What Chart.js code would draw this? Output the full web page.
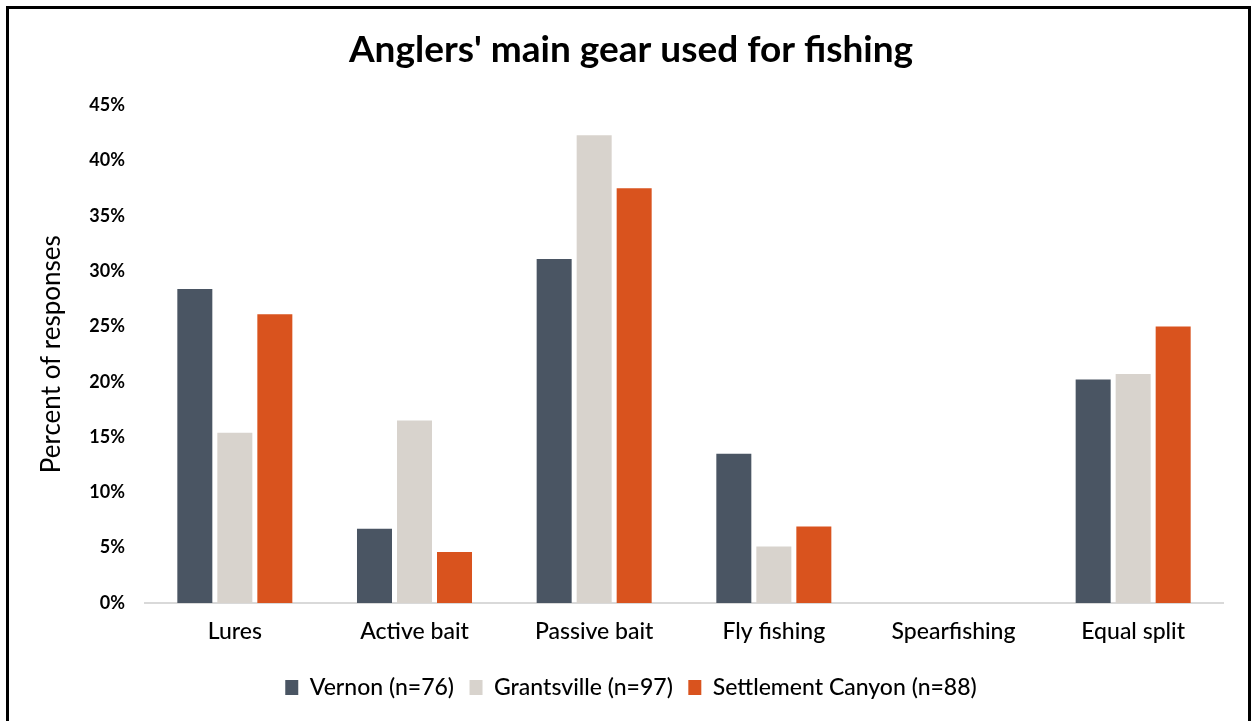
<!DOCTYPE html>
<html>
<head>
<meta charset="utf-8">
<script src="https://cdn.jsdelivr.net/npm/chart.js@4/dist/chart.umd.min.js"></script>
<style>
    html, body { margin: 0; padding: 0; background: #fff; overflow: hidden; }
    #frame {
        position: absolute;
        left: 6px; top: 6px;
        width: 1239px; height: 740px;
        border: 3px solid #000;
        background: #fff;
    }
    #wrap { position: absolute; left: 0; top: 0; width: 1239px; height: 700px; }
</style>
</head>
<body>
<div id="frame"><div id="wrap"><canvas id="gearChart"></canvas></div></div>
<script>
// Data
const categories = ['Lures', 'Active bait', 'Passive bait', 'Fly fishing', 'Spearfishing', 'Equal split'];
const vernon = [28.4, 6.7, 31.1, 13.5, 0, 20.2];
const grantsville = [15.4, 16.5, 42.3, 5.1, 0, 20.7];
const settlementCanyon = [26.1, 4.6, 37.5, 6.9, 0, 25.0];
const seriesNames = ['Vernon (n=76)', 'Grantsville (n=97)', 'Settlement Canyon (n=88)'];
const yTicks = [0, 5, 10, 15, 20, 25, 30, 35, 40, 45];

const colors = ['#4a5563', '#d8d3cd', '#d9531e'];
const fontFamily = 'Lato, "Open Sans", sans-serif';

document.addEventListener('DOMContentLoaded', function() {
    initGearChart();
});

function initGearChart() {
    const canvas = document.getElementById('gearChart');
    if (!canvas) return;

    const seriesData = [vernon, grantsville, settlementCanyon];
    const datasets = seriesNames.map((name, i) => ({
        label: name,
        data: seriesData[i],
        backgroundColor: colors[i],
        borderWidth: 0,
        categoryPercentage: 0.668,
        barPercentage: 0.875
    }));

    new Chart(canvas.getContext('2d'), {
        type: 'bar',
        data: { labels: categories, datasets: datasets },
        options: {
            responsive: true,
            maintainAspectRatio: false,
            animation: false,
            layout: { padding: { left: 30, right: 25, top: 9, bottom: 0 } },
            plugins: {
                title: {
                    display: true,
                    text: "Anglers' main gear used for fishing",
                    color: '#000',
                    font: { family: fontFamily, size: 37, weight: 'bold' },
                    padding: { top: 10, bottom: 33 }
                },
                legend: {
                    position: 'bottom',
                    labels: {
                        color: '#000',
                        font: { family: fontFamily, size: 23, weight: '500' },
                        boxWidth: 13,
                        boxHeight: 15,
                        padding: 15.5
                    }
                },
                tooltip: { enabled: false }
            },
            scales: {
                x: {
                    grid: { display: false, drawTicks: false },
                    border: { display: true, color: '#d9d9d9', width: 2 },
                    ticks: {
                        color: '#000',
                        font: { family: fontFamily, size: 23, weight: '500' },
                        padding: 15
                    }
                },
                y: {
                    min: 0,
                    max: 45,
                    afterBuildTicks: axis => { axis.ticks = yTicks.map(v => ({ value: v })); },
                    grid: { display: false, drawTicks: false },
                    border: { display: false },
                    ticks: {
                        color: '#000',
                        font: { family: fontFamily, size: 18, weight: 'bold' },
                        padding: 20,
                        callback: v => v + '%'
                    },
                    title: {
                        display: true,
                        text: 'Percent of responses',
                        color: '#000',
                        font: { family: fontFamily, size: 26 },
                        padding: { top: -3, bottom: 0 }
                    },
                    afterFit: axis => { axis.width = 106; }
                }
            }
        }
    });
}
</script>
</body>
</html>
